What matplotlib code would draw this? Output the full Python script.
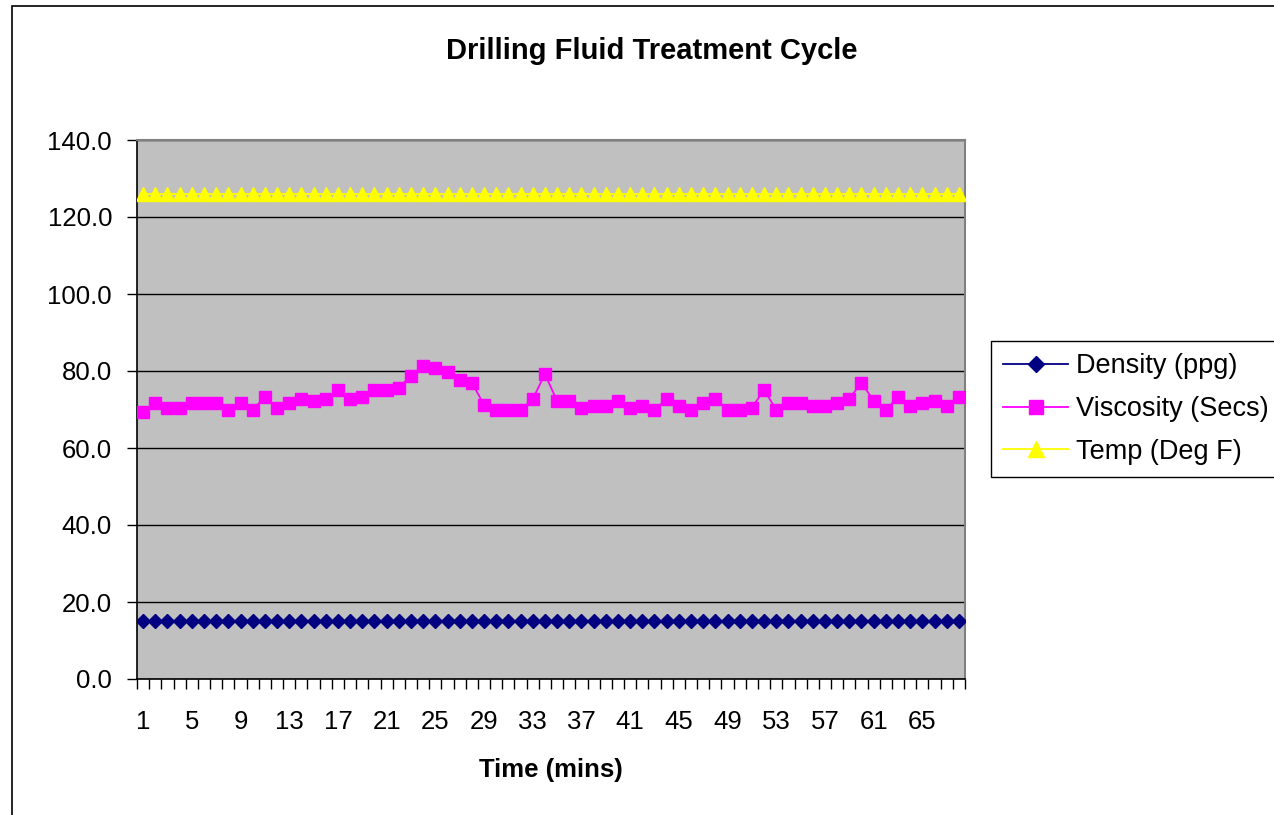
import matplotlib
matplotlib.use("Agg")
import matplotlib.pyplot as plt
from matplotlib.patches import Rectangle
from matplotlib.ticker import FixedLocator, FormatStrFormatter

plt.rcParams['font.family'] = ['Liberation Sans', 'DejaVu Sans']

minutes = list(range(1, 69))
density = [15.0] * 68
viscosity = [69.4, 71.6, 70.5, 70.5, 71.6, 71.6, 71.6, 69.9, 71.6, 69.9,
             73.3, 70.5, 71.6, 72.6, 72.2, 72.8, 75.1, 72.8, 73.3, 75.1,
             75.1, 75.7, 78.7, 81.4, 80.9, 79.8, 77.7, 77.0, 71.2, 69.9,
             69.9, 69.9, 72.7, 79.2, 72.2, 72.2, 70.5, 71.0, 71.0, 72.2,
             70.5, 71.0, 69.9, 72.8, 71.0, 69.9, 71.6, 72.8, 69.9, 69.9,
             70.5, 75.1, 69.9, 71.6, 71.6, 71.0, 71.0, 71.6, 72.8, 77.0,
             72.2, 69.9, 73.3, 71.0, 71.6, 72.2, 71.0, 73.3]
temp = [126.0] * 68
series_names = ['Density (ppg)', 'Viscosity (Secs)', 'Temp (Deg F)']
title = 'Drilling Fluid Treatment Cycle'
xlabel = 'Time (mins)'
y_ticks = [0, 20, 40, 60, 80, 100, 120, 140]
x_label_ticks = list(range(1, 69, 4))

W, H = 1274, 815
fig = plt.figure(figsize=(W / 100, H / 100), dpi=100)
ax = fig.add_axes([137 / W, 1 - 679 / H, (965 - 137) / W, (679 - 140) / H])
ax.set_facecolor('#C0C0C0')

ax.plot(minutes, density, color='#000080', marker='D', ms=7, lw=1.3,
        label=series_names[0], zorder=3)
ax.plot(minutes, viscosity, color='#FF00FF', marker='s', ms=8.5, lw=1.3,
        label=series_names[1], zorder=3)
ax.plot(minutes, temp, color='#FFFF00', marker='^', ms=10, lw=1.3,
        label=series_names[2], zorder=3)

ax.set_ylim(0, 140)
ax.set_xlim(0.5, 68.5)
ax.set_yticks(y_ticks)
ax.yaxis.set_major_formatter(FormatStrFormatter('%.1f'))
ax.yaxis.grid(True, color='black', lw=1)
ax.set_axisbelow(True)

ax.set_xticks(x_label_ticks)
ax.set_xticklabels([str(v) for v in x_label_ticks])
ax.xaxis.set_minor_locator(FixedLocator([i + 0.5 for i in range(0, 69)]))
ax.tick_params(axis='x', which='major', length=0, pad=22, labelsize=18.5)
ax.tick_params(axis='x', which='minor', length=7, width=1, color='black', direction='out')
ax.tick_params(axis='y', which='major', length=7, width=1, pad=11, labelsize=18.5)

for s in ['top', 'right']:
    ax.spines[s].set_color('#808080')
    ax.spines[s].set_linewidth(1.5)
for s in ['left', 'bottom']:
    ax.spines[s].set_color('black')
    ax.spines[s].set_linewidth(1.2)

fig.text(652 / W, 1 - 51 / H, title, ha='center', va='center',
         fontsize=21, fontweight='bold')
fig.text(551 / W, 1 - 770 / H, xlabel, ha='center', va='center',
         fontsize=18.5, fontweight='bold')

leg = fig.legend(loc='upper left', bbox_to_anchor=(991 / W, 1 - 341 / H),
                 bbox_transform=fig.transFigure, fontsize=19.5, frameon=True,
                 fancybox=False, edgecolor='black', framealpha=1,
                 handlelength=2.4, handletextpad=0.3, borderpad=0.45,
                 labelspacing=0.62, borderaxespad=0, markerscale=1.2)
leg.get_frame().set_linewidth(1)

fig.patches.append(Rectangle((12 / W, -0.1), 2, 1.1 - 6 / H, transform=fig.transFigure,
                             fill=False, edgecolor='black', lw=1.2))

fig.savefig('out.png', dpi=100)
